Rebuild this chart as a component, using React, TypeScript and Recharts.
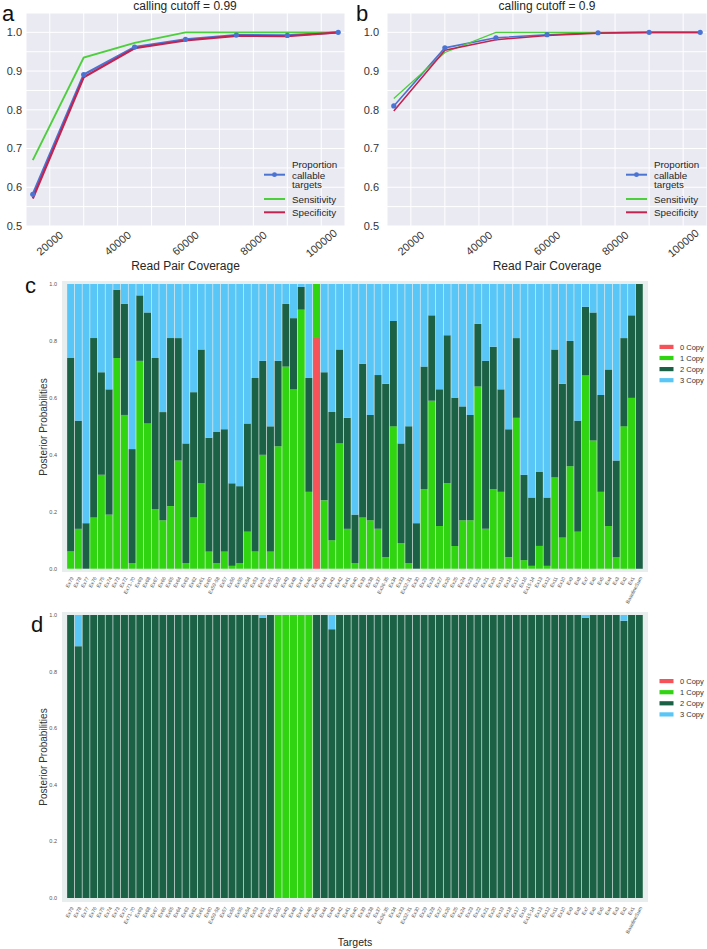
import React from 'react';
import { LineChart, Line, XAxis, YAxis, CartesianGrid, BarChart, Bar } from 'recharts';

const FONT = '"Liberation Sans", Arial, Helvetica, sans-serif';

// ---------- Panels a / b ----------
const coverage = [15000, 30000, 45000, 60000, 75000, 90000, 105000];
const propA = [0.582, 0.891, 0.962, 0.982, 0.993, 0.992, 1.0];
const sensA = [0.670, 0.935, 0.973, 1.0, 1.0, 1.0, 1.0];
const specA = [0.571, 0.884, 0.959, 0.979, 0.991, 0.990, 1.0];
const propB = [0.810, 0.960, 0.986, 0.994, 0.999, 1.0, 1.0];
const sensB = [0.829, 0.948, 1.0, 1.0, 1.0, 1.0, 1.0];
const specB = [0.797, 0.954, 0.981, 0.992, 0.998, 1.0, 1.0];
const covTicks = [20000, 30000, 40000, 50000, 60000, 70000, 80000, 90000, 100000];
const fracTicks = [0.5, 0.55, 0.6, 0.65, 0.7, 0.75, 0.8, 0.85, 0.9, 0.95, 1.0];
const lineNames = ['Proportion callable targets', 'Sensitivity', 'Specificity'];

// ---------- Panels c / d ----------
const targets = ['Ex79','Ex78','Ex77','Ex76','Ex75','Ex74','Ex73','Ex72','Ex71-70','Ex69',
  'Ex68','Ex67','Ex66','Ex65','Ex64','Ex63','Ex62','Ex61','Ex60','Ex59-58',
  'Ex57','Ex56','Ex55','Ex54','Ex53','Ex52','Ex51','Ex50','Ex49','Ex48',
  'Ex47','Ex46','Ex45','Ex44','Ex43','Ex42','Ex41','Ex40','Ex39','Ex38',
  'Ex37','Ex36-35','Ex34','Ex33','Ex32-31','Ex30','Ex29','Ex28','Ex27','Ex26',
  'Ex25','Ex24','Ex23','Ex22','Ex21','Ex20','Ex19','Ex18','Ex17','Ex16',
  'Ex15-14','Ex13','Ex12','Ex11','Ex10','Ex9','Ex8','Ex7','Ex6','Ex5',
  'Ex4','Ex3','Ex2','Ex1','BaselineSum'];
const copyNames = ['0 Copy', '1 Copy', '2 Copy', '3 Copy'];
const copyTicks = [0, 0.2, 0.4, 0.6, 0.8, 1.0];

const c0 = [0,0,0,0,0,0,0,0,0,0, 0,0,0,0,0,0,0,0,0,0, 0,0,0,0,0,0,0,0,0,0,
  0,0,0.81,0,0,0,0,0,0,0, 0,0,0,0,0,0,0,0,0,0, 0,0,0,0,0,0,0,0,0,0,
  0,0,0,0,0,0,0,0,0,0, 0,0,0,0,0];
const c1 = [0.06,0.14,0,0.18,0.33,0.19,0.74,0.54,0.02,0.73, 0.51,0.21,0.17,0.22,0.38,0.02,0.18,0.30,0.06,0.02,
  0.06,0.01,0.02,0.13,0.06,0.40,0.06,0.43,0.71,0.63, 0.91,0.27,0.19,0.24,0.10,0.44,0.14,0.02,0.18,0.17,
  0.14,0.04,0.50,0.09,0.02,0,0.28,0.59,0.15,0.30, 0.08,0.17,0.17,0.64,0.14,0.28,0.27,0.04,0.53,0.03,
  0.01,0.08,0.01,0.32,0.11,0.36,0.13,0.68,0.45,0.27, 0.15,0.04,0.50,0.60,0];
const c2 = [0.68,0.38,0.16,0.63,0.36,0.44,0.24,0.39,0.40,0.23, 0.39,0.53,0.38,0.59,0.43,0.42,0.44,0.47,0.40,0.46,
  0.43,0.29,0.27,0.38,0.61,0.33,0.44,0.30,0.22,0.25, 0.08,0.40,0,0.45,0.45,0.33,0.39,0.17,0.54,0.37,
  0.54,0.61,0.37,0.35,0.48,0.16,0.43,0.30,0.48,0.52, 0.52,0.40,0.37,0.22,0.59,0.50,0.36,0.45,0.28,0.30,
  0.24,0.26,0.24,0.45,0.54,0.44,0.39,0.24,0.45,0.34, 0.55,0.34,0.31,0.29,1];
const c3 = [0.26,0.48,0.84,0.19,0.31,0.37,0.02,0.07,0.58,0.04, 0.10,0.26,0.45,0.19,0.19,0.56,0.38,0.23,0.54,0.52,
  0.51,0.70,0.71,0.49,0.33,0.27,0.50,0.27,0.07,0.12, 0.01,0.33,0,0.31,0.45,0.23,0.47,0.81,0.28,0.46,
  0.32,0.35,0.13,0.56,0.50,0.84,0.29,0.11,0.37,0.18, 0.40,0.43,0.46,0.14,0.27,0.22,0.37,0.51,0.19,0.67,
  0.75,0.66,0.75,0.23,0.35,0.20,0.48,0.08,0.10,0.39, 0.30,0.62,0.19,0.11,0];

const d0 = [0,0,0,0,0,0,0,0,0,0, 0,0,0,0,0,0,0,0,0,0, 0,0,0,0,0,0,0,0,0,0,
  0,0,0,0,0,0,0,0,0,0, 0,0,0,0,0,0,0,0,0,0, 0,0,0,0,0,0,0,0,0,0,
  0,0,0,0,0,0,0,0,0,0, 0,0,0,0,0];
const d1 = [0,0,0,0,0,0,0,0,0,0, 0,0,0,0,0,0,0,0,0,0, 0,0,0,0,0,0,0,1,1,1,
  1,1,0,0,0,0,0,0,0,0, 0,0,0,0,0,0,0,0,0,0, 0,0,0,0,0,0,0,0,0,0,
  0,0,0,0,0,0,0,0,0,0, 0,0,0,0,0];
const d2 = [1,0.89,1,1,1,1,1,1,1,1, 1,1,1,1,1,1,1,1,1,1, 1,1,1,1,1,0.99,1,0,0,0,
  0,0,1,1,0.95,1,1,1,1,1, 1,1,1,1,1,1,1,1,1,1, 1,1,1,1,1,1,1,1,1,1,
  1,1,1,1,1,1,1,0.99,1,1, 1,1,0.98,1,1];
const d3 = [0,0.11,0,0,0,0,0,0,0,0, 0,0,0,0,0,0,0,0,0,0, 0,0,0,0,0,0.01,0,0,0,0,
  0,0,0,0,0.05,0,0,0,0,0, 0,0,0,0,0,0,0,0,0,0, 0,0,0,0,0,0,0,0,0,0,
  0,0,0,0,0,0,0,0.01,0,0, 0,0,0.02,0,0];

const LINE_COLORS = ['#4a73d2', '#4ccf3a', '#c3234e'];
const COPY_COLORS = ['#f5525a', '#30d411', '#1a6145', '#58c6f6'];

const buildLineData = (p: number[], s: number[], sp: number[]) =>
  coverage.map((c, i) => ({ cov: c, prop: p[i], sens: s[i], spec: sp[i] }));
const buildBarData = (a: number[], b: number[], c: number[], d: number[]) =>
  targets.map((t, i) => ({ target: t, k0: a[i], k1: b[i], k2: c[i], k3: d[i] }));

const dataA = buildLineData(propA, sensA, specA);
const dataB = buildLineData(propB, sensB, specB);
const dataC = buildBarData(c0, c1, c2, c3);
const dataD = buildBarData(d0, d1, d2, d3);

const CovTick = (props: any) => {
  const { x, y, payload } = props;
  if (payload.value % 20000 !== 0) return <g />;
  return (
    <text transform={`translate(${x},${y + 17}) rotate(-40)`} textAnchor="middle"
      dominantBaseline="central" fontSize={11} fill="#333" fontFamily={FONT}>
      {payload.value}
    </text>
  );
};

const TargetTick = (props: any) => {
  const { x, y, payload } = props;
  return (
    <text transform={`translate(${x + 1.5},${y}) rotate(-62)`} textAnchor="end"
      dominantBaseline="central" fontSize={5} fill="#555" fontFamily={FONT}>
      {payload.value}
    </text>
  );
};

function CoveragePanel({ left, width, rightMargin, yWidth, tMargin, data, lw }: any) {
  return (
    <div style={{ position: 'absolute', left, top: 0 }}>
      <LineChart width={width} height={280} data={data}
        margin={{ top: 13, right: rightMargin, left: 0, bottom: 0 }} style={{ fontFamily: FONT }}>
        <CartesianGrid fill="#eaeaf3" stroke="#ffffff" strokeWidth={1} />
        <XAxis dataKey="cov" type="number" domain={[13000, 107000]} ticks={covTicks}
          allowDataOverflow interval={0} tickLine={false} axisLine={false} tickSize={0}
          tickMargin={0} height={54} tick={<CovTick />}
          label={{ value: 'Read Pair Coverage', position: 'insideBottom', offset: 10, fontSize: 12, fill: '#262626' }} />
        <YAxis type="number" domain={[0.5, 1.05]} ticks={fracTicks} allowDataOverflow interval={0}
          width={yWidth} tickLine={false} axisLine={false} tickSize={0} tickMargin={tMargin}
          tickFormatter={(v: number) => (Math.round(v * 100) % 10 === 0 ? v.toFixed(1) : '')}
          tick={{ fontSize: 11, fill: '#333' }} />
        <Line dataKey="prop" name={lineNames[0]} stroke={LINE_COLORS[0]} strokeWidth={lw}
          dot={{ r: 2.6, fill: LINE_COLORS[0], stroke: LINE_COLORS[0], strokeWidth: 0 }} isAnimationActive={false} />
        <Line dataKey="sens" name={lineNames[1]} stroke={LINE_COLORS[1]} strokeWidth={lw - 0.3}
          dot={false} isAnimationActive={false} />
        <Line dataKey="spec" name={lineNames[2]} stroke={LINE_COLORS[2]} strokeWidth={lw}
          dot={false} isAnimationActive={false} />
      </LineChart>
    </div>
  );
}

function PosteriorPanel({ top, height, marginTop, xHeight, domain, data }: any) {
  return (
    <div style={{ position: 'absolute', left: 0, top }}>
      <BarChart width={660} height={height} data={data} barCategoryGap={0.45}
        margin={{ top: marginTop, right: 12, left: 0, bottom: 0 }} style={{ fontFamily: FONT }}>
        <CartesianGrid fill="#e8eded" horizontal={false} vertical={false} />
        <XAxis dataKey="target" interval={0} tickLine={false} axisLine={false} tickSize={0}
          tickMargin={5} height={xHeight} padding={{ left: 4.7, right: 5 }} tick={<TargetTick />} />
        <YAxis type="number" domain={domain} allowDataOverflow ticks={copyTicks} interval={0} width={62}
          tickLine={false} axisLine={false} tickSize={0} tickMargin={5}
          tickFormatter={(v: number) => v.toFixed(1)} tick={{ fontSize: 5.5, fill: '#555' }} />
        <Bar dataKey="k0" name={copyNames[0]} stackId="s" fill={COPY_COLORS[0]} isAnimationActive={false} />
        <Bar dataKey="k1" name={copyNames[1]} stackId="s" fill={COPY_COLORS[1]} isAnimationActive={false} />
        <Bar dataKey="k2" name={copyNames[2]} stackId="s" fill={COPY_COLORS[2]} isAnimationActive={false} />
        <Bar dataKey="k3" name={copyNames[3]} stackId="s" fill={COPY_COLORS[3]} isAnimationActive={false} />
      </BarChart>
    </div>
  );
}

function LineLegend({ x, textX }: { x: number; textX: number }) {
  const rows = [174.7, 199, 212.3];
  return (
    <g fontFamily={FONT} fontSize={9.8} fill="#262626">
      {rows.map((ry, i) => (
        <g key={i}>
          <line x1={x} x2={x + 21} y1={ry} y2={ry} stroke={LINE_COLORS[i]} strokeWidth={2} />
          {i === 0 && <circle cx={x + 10.5} cy={ry} r={2.4} fill={LINE_COLORS[0]} />}
        </g>
      ))}
      <text x={textX} y={168}>Proportion</text>
      <text x={textX} y={178.5}>callable</text>
      <text x={textX} y={188}>targets</text>
      <text x={textX} y={202.5}>{lineNames[1]}</text>
      <text x={textX} y={215.5}>{lineNames[2]}</text>
    </g>
  );
}

function CopyLegend({ y0 }: { y0: number }) {
  return (
    <g fontFamily={FONT} fontSize={7.5} fill="#333">
      {copyNames.map((n, i) => (
        <g key={n}>
          <rect x={659.5} y={y0 + i * 11.1 - 2} width={14} height={4.2} fill={COPY_COLORS[i]} />
          <text x={680} y={y0 + i * 11.1 + 2.7}>{n}</text>
        </g>
      ))}
    </g>
  );
}

export default function App() {
  return (
    <div style={{ position: 'absolute', left: 0, top: 0, width: 707, height: 949, background: '#fff', fontFamily: FONT, overflow: 'hidden' }}>
      <CoveragePanel left={0} width={354} rightMargin={9} yWidth={26} tMargin={4} data={dataA} lw={2.2} />
      <CoveragePanel left={354} width={353} rightMargin={0} yWidth={33} tMargin={8} data={dataB} lw={1.6} />
      <PosteriorPanel top={276} height={330} marginTop={5} xHeight={34} domain={[-0.0116, 1.0105]} data={dataC} />
      <PosteriorPanel top={606} height={334} marginTop={6} xHeight={38} domain={[-0.014, 1.0106]} data={dataD} />
      <svg width={707} height={949} style={{ position: 'absolute', left: 0, top: 0, pointerEvents: 'none' }}>
        <g fontFamily={FONT} fill="#111">
          <text x={2} y={21} fontSize={22}>a</text>
          <text x={356} y={21} fontSize={22}>b</text>
          <text x={185} y={10} fontSize={12} textAnchor="middle" fill="#262626">calling cutoff = 0.99</text>
          <text x={547} y={10} fontSize={12} textAnchor="middle" fill="#262626">calling cutoff = 0.9</text>
          <text x={25} y={293} fontSize={22}>c</text>
          <text x={31} y={632} fontSize={22}>d</text>
          <text transform="translate(43,427) rotate(-90)" textAnchor="middle" dominantBaseline="central" fontSize={10} fill="#333">Posterior Probabilities</text>
          <text transform="translate(43,757) rotate(-90)" textAnchor="middle" dominantBaseline="central" fontSize={10} fill="#333">Posterior Probabilities</text>
          <text x={355} y={946} fontSize={10.5} textAnchor="middle" fill="#262626">Targets</text>
        </g>
        <LineLegend x={264} textX={292} />
        <LineLegend x={626} textX={654} />
        <CopyLegend y0={346.8} />
        <CopyLegend y0={681} />
      </svg>
    </div>
  );
}
